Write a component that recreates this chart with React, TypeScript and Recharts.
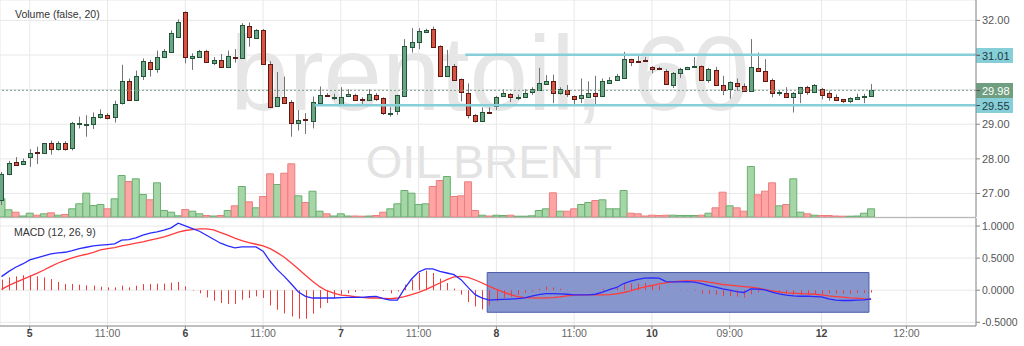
import React from 'react';
import {
  ComposedChart,
  Bar,
  Line,
  Cell,
  XAxis,
  YAxis,
  CartesianGrid,
  ReferenceLine,
  ReferenceArea
} from 'recharts';

// hourly candles, brent oil
const opens = [
  26.81, 27.56, 27.91, 27.83, 28.06, 28.21, 28.16, 28.45, 28.29, 28.45,
  28.32, 29.02, 29.00, 29.03, 29.22, 29.28, 29.20, 29.59, 30.24, 29.68,
  30.38, 30.80, 30.61, 30.95, 31.09, 31.53, 32.25, 30.90, 30.94, 31.13,
  30.78, 30.86, 30.65, 30.95, 30.92, 31.84, 31.47, 31.71, 30.74, 29.51,
  29.78, 29.64, 29.03, 29.15, 29.10, 29.62, 29.84, 29.77, 29.61, 29.80,
  29.84, 29.72, 29.70, 29.84, 29.76, 29.31, 29.38, 29.82, 31.23, 31.38,
  31.67, 31.75, 31.26, 30.38, 30.68, 30.30, 29.91, 29.28, 29.10, 29.36,
  29.55, 29.80, 29.86, 29.79, 29.78, 29.91, 29.99, 30.18, 30.24, 29.88,
  29.99, 29.82, 29.74, 29.80, 29.90, 29.80, 30.20, 30.26, 30.34, 30.88,
  30.83, 30.85, 30.66, 30.63, 30.55, 30.14, 30.49, 30.59, 30.65, 30.68,
  30.28, 30.57, 30.13, 30.01, 30.18, 30.11, 29.97, 30.63, 30.55, 30.28,
  29.91, 29.91, 29.78, 29.91, 30.07, 29.93, 30.03, 29.90, 29.78, 29.72,
  29.68, 29.72, 29.81, 29.82
];
const highs = [
  27.62, 27.94, 28.05, 28.01, 28.28, 28.35, 28.46, 28.53, 28.51, 28.51,
  29.07, 29.22, 29.26, 29.34, 29.43, 29.32, 29.68, 30.72, 30.32, 30.55,
  30.90, 30.86, 31.13, 31.17, 31.71, 32.03, 32.26, 31.05, 31.15, 31.15,
  30.94, 31.03, 31.13, 31.17, 31.92, 31.94, 31.75, 31.75, 30.82, 30.51,
  30.38, 29.70, 29.41, 29.32, 29.80, 30.09, 29.90, 29.88, 30.07, 30.01,
  29.88, 29.78, 30.01, 29.90, 29.78, 29.49, 29.85, 31.46, 31.78, 31.78,
  31.76, 31.82, 31.28, 31.15, 30.74, 30.32, 30.18, 29.30, 29.49, 29.49,
  29.82, 30.01, 29.90, 29.86, 30.01, 30.07, 30.63, 30.42, 30.43, 30.07,
  30.13, 29.83, 30.32, 30.24, 30.40, 30.32, 30.36, 30.45, 31.09, 30.89,
  31.03, 30.94, 30.68, 30.66, 30.59, 30.51, 30.63, 30.66, 30.94, 30.70,
  30.63, 30.66, 30.40, 30.24, 30.32, 30.18, 31.46, 31.07, 30.88, 30.32,
  29.99, 30.07, 29.93, 30.08, 30.11, 30.16, 30.05, 29.97, 29.86, 29.73,
  29.78, 29.88, 29.88, 30.16
];
const lows = [
  26.67, 27.53, 27.82, 27.82, 27.77, 27.85, 28.16, 28.12, 28.24, 28.24,
  28.24, 28.88, 28.64, 28.86, 29.16, 29.14, 29.05, 29.57, 29.67, 29.67,
  30.28, 30.38, 30.49, 30.94, 31.08, 31.52, 30.76, 30.57, 30.92, 30.80,
  30.71, 30.64, 30.64, 30.78, 30.90, 31.24, 31.47, 30.73, 29.50, 29.50,
  29.60, 28.64, 28.82, 28.72, 28.88, 29.62, 29.79, 29.70, 29.60, 29.79,
  29.69, 29.59, 29.69, 29.67, 29.27, 29.22, 29.27, 29.80, 31.07, 31.17,
  31.65, 31.22, 30.37, 30.37, 30.25, 29.66, 29.17, 29.05, 29.10, 29.31,
  29.41, 29.79, 29.64, 29.70, 29.77, 29.85, 29.98, 30.16, 29.61, 29.85,
  29.79, 29.55, 29.61, 29.79, 29.57, 29.79, 30.19, 30.25, 30.32, 30.68,
  30.80, 30.83, 30.47, 30.57, 30.15, 30.05, 30.34, 30.57, 30.63, 30.27,
  30.20, 30.12, 29.84, 29.74, 29.97, 29.96, 29.96, 30.51, 30.25, 29.78,
  29.82, 29.77, 29.34, 29.61, 29.85, 29.92, 29.72, 29.68, 29.69, 29.61,
  29.61, 29.70, 29.61, 29.80
];
const closes = [
  27.56, 27.88, 27.83, 27.93, 28.18, 28.17, 28.45, 28.28, 28.45, 28.29,
  29.03, 29.03, 29.01, 29.22, 29.30, 29.18, 29.59, 30.24, 29.68, 30.38,
  30.82, 30.61, 30.95, 31.11, 31.63, 31.96, 30.94, 30.97, 31.11, 30.82,
  30.86, 30.65, 30.97, 30.92, 31.86, 31.51, 31.71, 30.74, 29.51, 29.78,
  29.62, 29.03, 29.12, 29.14, 29.64, 29.84, 29.80, 29.78, 29.80, 29.86,
  29.70, 29.68, 29.86, 29.72, 29.32, 29.32, 29.84, 31.26, 31.38, 31.69,
  31.73, 31.23, 30.38, 30.68, 30.28, 29.91, 29.27, 29.10, 29.36, 29.32,
  29.80, 29.90, 29.78, 29.80, 29.91, 30.01, 30.18, 30.26, 29.90, 30.01,
  29.86, 29.72, 29.84, 29.91, 29.82, 30.24, 30.28, 30.38, 30.88, 30.80,
  30.82, 30.84, 30.61, 30.59, 30.16, 30.49, 30.61, 30.65, 30.68, 30.28,
  30.59, 30.13, 29.99, 30.22, 30.09, 29.97, 30.66, 30.53, 30.26, 29.90,
  29.92, 29.80, 29.91, 30.07, 29.93, 30.14, 29.86, 29.78, 29.70, 29.66,
  29.76, 29.78, 29.82, 29.98
];
const volumes = [
  182, 72, 48, 10, 38, 18, 32, 42, 18, 25,
  82, 132, 238, 115, 125, 82, 182, 415, 355, 382,
  225, 172, 342, 65, 48, 12, 75, 58, 32, 15,
  10, 15, 65, 112, 305, 152, 92, 205, 432, 325,
  438, 532, 212, 145, 258, 58, 32, 10, 32, 10,
  10, 8, 10, 15, 48, 82, 132, 265, 238, 125,
  132, 305, 365, 405, 205, 212, 352, 65, 18, 10,
  18, 15, 18, 8, 8, 12, 65, 82, 242, 58,
  58, 82, 125, 145, 165, 172, 82, 82, 265, 38,
  32, 10, 18, 15, 18, 18, 15, 15, 15, 18,
  38, 92, 248, 112, 92, 58, 505, 222, 258, 342,
  112, 125, 382, 48, 32, 18, 15, 15, 10, 8,
  8, 10, 38, 82
];

// MACD (12, 26, 9)
const macdLine = [
  0.211, 0.289, 0.357, 0.409, 0.471, 0.503, 0.534, 0.565, 0.581, 0.591,
  0.617, 0.648, 0.669, 0.690, 0.701, 0.711, 0.721, 0.779, 0.789, 0.815,
  0.857, 0.888, 0.909, 0.935, 0.971, 1.045, 1.003, 0.961, 0.919, 0.857,
  0.794, 0.732, 0.690, 0.659, 0.674, 0.674, 0.674, 0.607, 0.451, 0.320,
  0.216, 0.096, -0.029, -0.096, -0.122, -0.122, -0.122, -0.122, -0.117, -0.112,
  -0.112, -0.112, -0.102, -0.096, -0.133, -0.154, -0.154, 0.023, 0.174, 0.284,
  0.331, 0.331, 0.294, 0.268, 0.242, 0.164, 0.044, -0.070, -0.122, -0.154,
  -0.148, -0.143, -0.138, -0.130, -0.120, -0.094, -0.068, -0.052, -0.052, -0.057,
  -0.063, -0.073, -0.073, -0.073, -0.063, -0.031, 0.010, 0.042, 0.104, 0.141,
  0.167, 0.188, 0.193, 0.188, 0.135, 0.130, 0.130, 0.135, 0.125, 0.104,
  0.073, 0.047, 0.021, 0.000, -0.021, -0.036, 0.021, 0.016, 0.005, -0.031,
  -0.057, -0.078, -0.089, -0.094, -0.094, -0.099, -0.104, -0.135, -0.156, -0.161,
  -0.161, -0.156, -0.151, -0.135
];
const signalLine = [
  0.013, 0.070, 0.122, 0.169, 0.216, 0.263, 0.315, 0.372, 0.424, 0.466,
  0.503, 0.534, 0.560, 0.591, 0.628, 0.648, 0.664, 0.690, 0.711, 0.732,
  0.753, 0.779, 0.805, 0.831, 0.867, 0.904, 0.930, 0.945, 0.956, 0.956,
  0.940, 0.898, 0.857, 0.810, 0.773, 0.742, 0.716, 0.690, 0.648, 0.586,
  0.513, 0.424, 0.331, 0.232, 0.138, 0.055, -0.008, -0.044, -0.076, -0.086,
  -0.102, -0.112, -0.122, -0.122, -0.128, -0.133, -0.122, -0.102, -0.070, -0.034,
  0.008, 0.060, 0.112, 0.164, 0.206, 0.216, 0.201, 0.159, 0.112, 0.060,
  0.013, -0.029, -0.070, -0.099, -0.115, -0.120, -0.125, -0.120, -0.115, -0.104,
  -0.089, -0.078, -0.073, -0.073, -0.073, -0.073, -0.068, -0.057, -0.036, -0.010,
  0.026, 0.052, 0.073, 0.099, 0.115, 0.130, 0.141, 0.146, 0.146, 0.146,
  0.125, 0.109, 0.089, 0.078, 0.068, 0.057, 0.047, 0.031, 0.010, -0.010,
  -0.026, -0.042, -0.047, -0.052, -0.057, -0.063, -0.073, -0.089, -0.099, -0.109,
  -0.120, -0.125, -0.135, -0.141
];
const histogram = [
  0.164, 0.200, 0.216, 0.232, 0.232, 0.216, 0.200, 0.174, 0.128, 0.096,
  0.096, 0.086, 0.076, 0.070, 0.055, 0.044, 0.044, 0.070, 0.044, 0.070,
  0.096, 0.096, 0.102, 0.102, 0.117, 0.128, 0.060, -0.008, -0.049, -0.112,
  -0.164, -0.200, -0.216, -0.216, -0.148, -0.122, -0.096, -0.122, -0.237, -0.305,
  -0.362, -0.409, -0.445, -0.445, -0.367, -0.279, -0.200, -0.122, -0.070, -0.049,
  -0.029, -0.008, 0.003, 0.003, -0.013, -0.049, -0.018, 0.086, 0.164, 0.268,
  0.305, 0.268, 0.180, 0.112, 0.023, -0.070, -0.185, -0.253, -0.300, -0.237,
  -0.174, -0.122, -0.102, -0.073, -0.042, -0.021, 0.021, 0.057, 0.042, 0.021,
  0.005, -0.005, -0.005, -0.005, 0.000, 0.021, 0.031, 0.047, 0.094, 0.109,
  0.104, 0.109, 0.083, 0.073, 0.000, -0.005, -0.005, -0.005, -0.010, -0.052,
  -0.063, -0.073, -0.094, -0.094, -0.099, -0.115, -0.063, -0.031, -0.010, -0.031,
  -0.042, -0.052, -0.073, -0.073, -0.073, -0.063, -0.063, -0.047, -0.052, -0.052,
  -0.052, -0.042, -0.042, -0.036
];

const timeTicks = [4, 15, 26, 37, 48, 59, 70, 81, 92, 103, 116, 128];
const timeLabels = ['5', '11:00', '6', '11:00', '7', '11:00', '8', '11:00', '10', '09:00', '12', '12:00'];
const priceTicks = [27, 28, 29, 30, 31, 32];
const macdTicks = [-0.5, 0, 0.5, 1];

const resistance = 31.01;
const support = 29.55;
const lastPrice = 29.98;
const resistanceStart = 65.6;
const supportStart = 44.3;
const boxStart = 68.7;
const boxEnd = 122.7;
const boxTop = 0.275;
const boxBottom = -0.344;

const X_DOMAIN = [-0.21, 137.84];
const PRICE_DOMAIN = [26.32, 32.59];
const VOL_DOMAIN = [0, 2170];
const MACD_DOMAIN = [-0.558, 1.125];

const UP = '#6ba583';
const UP_BORDER = '#225437';
const DOWN = '#d75442';
const DOWN_BORDER = '#5b1a13';
const WICK = '#737375';
const GRID = '#e8e8e8';
const AXIS = '#8a8a8a';
const CYAN = '#86cfd9';
const FONT = '"Liberation Sans", Arial, sans-serif';

const candles = opens.map((open, i) => ({
  i,
  open,
  high: highs[i],
  low: lows[i],
  close: closes[i],
  volume: volumes[i]
}));

const macdRows = macdLine.map((macd, i) => ({
  i,
  macd,
  signal: signalLine[i],
  hist: histogram[i]
}));

const Candle = (props: any) => {
  const { x, y, width, height, payload } = props;
  if (x == null || y == null) return null;
  const { open, close, high, low } = payload;
  const up = close >= open;
  const top = Math.min(y, y + height);
  const h = Math.abs(height);
  const toY = (p: number) => (high === low ? top : top + ((high - p) / (high - low)) * h);
  const yo = toY(open);
  const yc = toY(close);
  const cx = Math.round(x + width / 2);
  const bTop = Math.round(Math.min(yo, yc));
  const bH = Math.max(Math.round(Math.abs(yo - yc)), 1);
  return (
    <g>
      <line x1={cx + 0.5} x2={cx + 0.5} y1={top} y2={top + h} stroke={WICK} strokeWidth={1} />
      <rect
        x={cx - 1.5}
        y={bTop + 0.5}
        width={4}
        height={bH}
        fill={up ? UP : DOWN}
        stroke={up ? UP_BORDER : DOWN_BORDER}
        strokeWidth={1}
      />
    </g>
  );
};

const HistBar = (props: any) => {
  const { x, y, width, height } = props;
  if (x == null || y == null || !height) return null;
  const top = Math.min(y, y + height);
  const h = Math.abs(height);
  const cx = Math.round(x + width / 2);
  return <rect x={cx} y={top} width={1} height={h} fill="#ee3b3b" />;
};

const PriceTag = (props: any) => {
  const { viewBox, price, bg, fg } = props;
  if (!viewBox) return null;
  const x = viewBox.x + viewBox.width;
  const y = Math.round(viewBox.y);
  return (
    <g>
      <rect x={x} y={y - 7} width={37} height={15} fill={bg} />
      <line x1={x} x2={x + 4} y1={y + 0.5} y2={y + 0.5} stroke="#444" />
      <text x={x + 6} y={y + 1} dy="0.35em" fontSize={11} fill={fg} fontFamily={FONT}>
        {price.toFixed(2)}
      </text>
    </g>
  );
};

const TimeTick = (props: any) => {
  const { x, y, payload } = props;
  const idx = timeTicks.indexOf(payload.value);
  const label = timeLabels[idx] ?? '';
  const isDay = !label.includes(':');
  return (
    <text
      x={x}
      y={y}
      dy="0.75em"
      textAnchor="middle"
      fontSize={10.5}
      fontFamily={FONT}
      fontWeight={isDay ? 'bold' : 'normal'}
      fill={isDay ? '#444' : '#666'}
    >
      {label}
    </text>
  );
};

const App: React.FC = () => {
  return (
    <div
      style={{
        position: 'relative',
        width: 1024,
        height: 346,
        background: '#fff',
        fontFamily: FONT,
        overflow: 'hidden'
      }}
    >
      <style>{'body{margin:0}'}</style>

      {/* watermark */}
      <svg width={976} height={217} style={{ position: 'absolute', left: 0, top: 0 }}>
        <text x={490} y={110} textAnchor="middle" fontSize={105} fill="#e6e6e6" fontFamily={FONT}>
          brentoil, 60
        </text>
        <text x={489} y={178} textAnchor="middle" fontSize={47} fill="#e3e3e3" fontFamily={FONT}>
          OIL BRENT
        </text>
      </svg>

      <div style={{ position: 'absolute', left: 0, top: 0 }}>
        <ComposedChart width={1024} height={217} data={candles} margin={{ top: 0, right: 0, bottom: 0, left: 0 }}>
          <XAxis xAxisId="c" dataKey="i" type="number" domain={X_DOMAIN} ticks={timeTicks} hide allowDataOverflow />
          <XAxis xAxisId="v" dataKey="i" type="number" domain={X_DOMAIN} ticks={timeTicks} hide allowDataOverflow />
          <YAxis
            yAxisId="p"
            orientation="right"
            width={48}
            domain={PRICE_DOMAIN}
            ticks={priceTicks}
            allowDataOverflow
            tickFormatter={(v: number) => (v === 30 || v === 31 ? '' : v.toFixed(2))}
            tick={{ fill: '#555', fontSize: 11 }}
            tickSize={4}
            tickMargin={2}
            axisLine={{ stroke: AXIS }}
            tickLine={{ stroke: AXIS }}
          />
          <YAxis yAxisId="vol" hide domain={VOL_DOMAIN} allowDataOverflow />
          <CartesianGrid xAxisId="c" yAxisId="p" stroke={GRID} strokeWidth={1} />

          <Bar xAxisId="v" yAxisId="vol" dataKey="volume" barSize={7} isAnimationActive={false}>
            {candles.map((c) => (
              <Cell
                key={`v-${c.i}`}
                fill={c.close >= c.open ? '#a5d6a7' : '#ffa4a4'}
                stroke={c.close >= c.open ? '#6aae6e' : '#ec7e7e'}
                strokeWidth={1}
              />
            ))}
          </Bar>

          <ReferenceLine
            xAxisId="c"
            yAxisId="p"
            y={lastPrice}
            stroke="#7a9e88"
            strokeDasharray="2 2"
            label={<PriceTag price={lastPrice} bg="#6f9f80" fg="#ffffff" />}
          />
          <ReferenceLine
            xAxisId="c"
            yAxisId="p"
            segment={[{ x: resistanceStart, y: resistance }, { x: X_DOMAIN[1], y: resistance }]}
            stroke={CYAN}
            strokeWidth={2.5}
            label={<PriceTag price={resistance} bg={CYAN} fg="#1f3a40" />}
          />
          <ReferenceLine
            xAxisId="c"
            yAxisId="p"
            segment={[{ x: supportStart, y: support }, { x: X_DOMAIN[1], y: support }]}
            stroke={CYAN}
            strokeWidth={2.5}
            label={<PriceTag price={support} bg={CYAN} fg="#1f3a40" />}
          />

          <Bar
            xAxisId="c"
            yAxisId="p"
            dataKey={(d: any) => [d.low, d.high]}
            barSize={5}
            shape={<Candle />}
            isAnimationActive={false}
          />
        </ComposedChart>
      </div>

      <div style={{ position: 'absolute', left: 15, top: 8, fontSize: 10.5, color: '#333' }}>Volume (false, 20)</div>

      <div style={{ position: 'absolute', left: 0, top: 217, width: 976, height: 1, background: '#b8b8b8' }} />

      <div style={{ position: 'absolute', left: 0, top: 218 }}>
        <ComposedChart width={1024} height={128} data={macdRows} margin={{ top: 0, right: 0, bottom: 0, left: 0 }}>
          <XAxis
            dataKey="i"
            type="number"
            domain={X_DOMAIN}
            ticks={timeTicks}
            allowDataOverflow
            height={20}
            tick={<TimeTick />}
            tickSize={3}
            tickMargin={0}
            axisLine={{ stroke: AXIS }}
            tickLine={{ stroke: AXIS }}
          />
          <YAxis
            orientation="right"
            width={48}
            domain={MACD_DOMAIN}
            ticks={macdTicks}
            allowDataOverflow
            tickFormatter={(v: number) => v.toFixed(4)}
            tick={{ fill: '#555', fontSize: 10.5 }}
            tickSize={4}
            tickMargin={2}
            axisLine={{ stroke: AXIS }}
            tickLine={{ stroke: AXIS }}
          />
          <CartesianGrid stroke={GRID} strokeWidth={1} />
          <ReferenceArea
            x1={boxStart}
            x2={boxEnd}
            y1={boxBottom}
            y2={boxTop}
            fill="#8796cc"
            fillOpacity={1}
            stroke="#4c5cab"
            strokeWidth={1}
          />
          <Bar dataKey="hist" shape={<HistBar />} isAnimationActive={false} />
          <Line dataKey="signal" type="linear" stroke="#ff3b3b" strokeWidth={1.3} dot={false} isAnimationActive={false} />
          <Line dataKey="macd" type="linear" stroke="#2a2aff" strokeWidth={1.3} dot={false} isAnimationActive={false} />
        </ComposedChart>
      </div>

      <div style={{ position: 'absolute', left: 14, top: 226, fontSize: 10.5, color: '#333' }}>MACD (12, 26, 9)</div>
    </div>
  );
};

export default App;
